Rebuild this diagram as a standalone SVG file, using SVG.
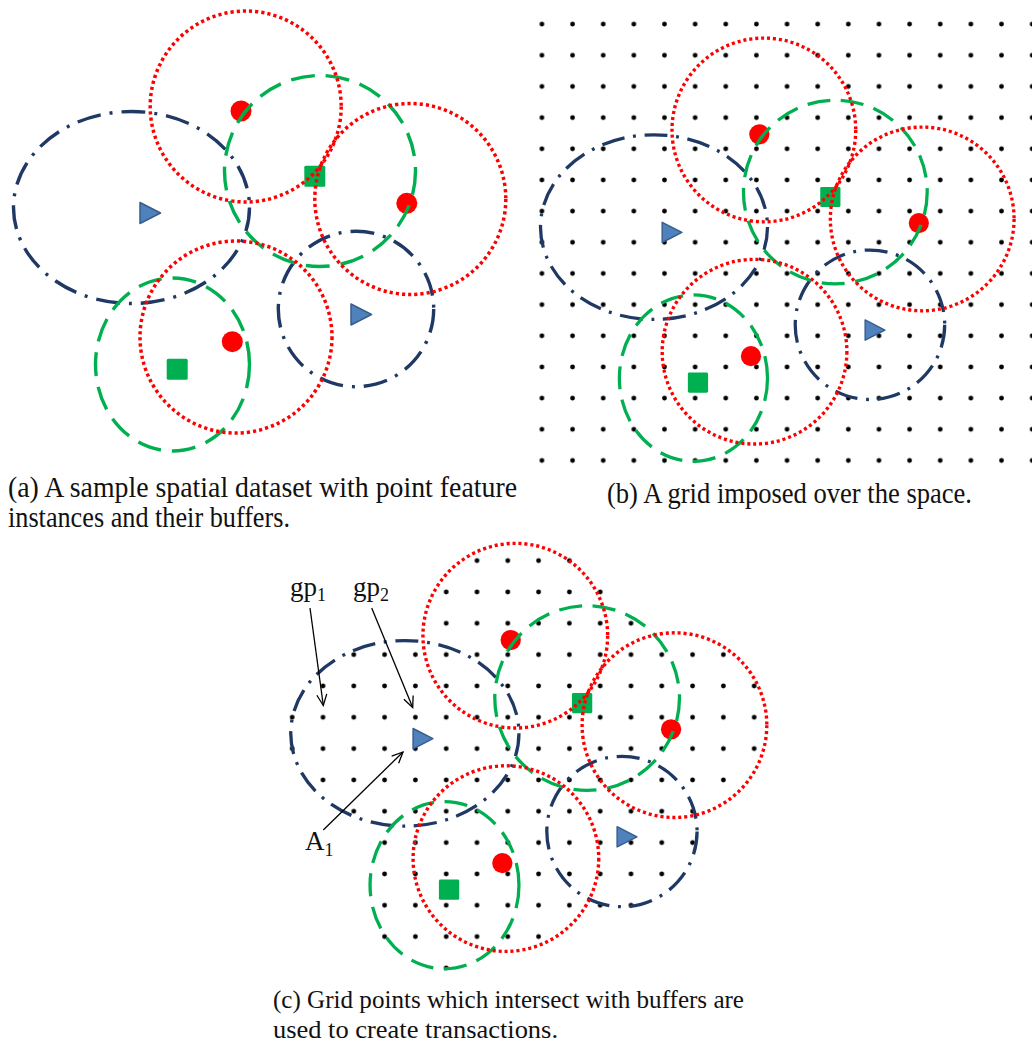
<svg xmlns="http://www.w3.org/2000/svg" xmlns:xlink="http://www.w3.org/1999/xlink" width="1032" height="1048" viewBox="0 0 1032 1048">
  <style>
    .red   { fill: none; stroke: #FF0000; stroke-width: 3.5; stroke-dasharray: 3.2 3; }
    .green { fill: none; stroke: #00B050; stroke-width: 3.4; stroke-dasharray: 24 11; }
    .blue  { fill: none; stroke: #1F3864; stroke-width: 3.4; stroke-dasharray: 24 9 3 9; }
    .inst-r { fill: #FF0000; }
    .inst-g { fill: #00B050; }
    .inst-b { fill: #4F81BD; stroke: #385D8A; stroke-width: 1.5; stroke-linejoin: round; }
    .caption { font-family: "Liberation Serif", "Times New Roman", serif; fill: #111; }
    .label { font-family: "Liberation Serif", "Times New Roman", serif; font-size: 27px; fill: #111; }
    .sub { font-size: 18px; }
    .arrow { fill: none; stroke: #000; stroke-width: 1.3; marker-end: url(#openHead); }
  </style>
  <defs>
    <marker id="openHead" markerUnits="userSpaceOnUse" markerWidth="14" markerHeight="14" viewBox="-12 -7 14 14" refX="0" refY="0" orient="auto">
      <path d="M-11,-5 L0,0 L-11,5" fill="none" stroke="#000" stroke-width="1.3"/>
    </marker>
    <!-- regular grid of sample points -->
    <pattern id="gridDots" patternUnits="userSpaceOnUse" x="-0.925" y="-19.7" width="31.85" height="32.4">
      <circle cx="15.925" cy="16.2" r="2.5" fill="#000"/>
    </pattern>

    <!-- point feature instances -->
    <g id="instances">
      <g id="r1"><circle class="inst-r" cx="241" cy="111" r="10.5"/></g>
      <g id="r2"><circle class="inst-r" cx="406.8" cy="203.3" r="10.5"/></g>
      <g id="r3"><circle class="inst-r" cx="232.3" cy="341.7" r="10.5"/></g>
      <g id="g1"><rect class="inst-g" x="304.3" y="165.7" width="21" height="21" rx="1.5"/></g>
      <g id="g2"><rect class="inst-g" x="166.7" y="358.7" width="21" height="21" rx="1.5"/></g>
      <g id="b1"><path class="inst-b" d="M140,202.5 L160.5,213 L140,223.5 Z"/></g>
      <g id="b2"><path class="inst-b" d="M351,304 L371.5,314.5 L351,325 Z"/></g>
    </g>

    <!-- buffers around each instance -->
    <g id="buffers">
      <ellipse class="blue" cx="131.5" cy="207.5" rx="118" ry="96"/>
      <circle class="blue" cx="356" cy="309" r="77.7"/>
      <ellipse class="green" cx="172.5" cy="364.5" rx="77" ry="86.5"/>
      <circle class="green" cx="320" cy="171" r="95.5"/>
      <circle class="red" cx="245.7" cy="106.5" r="95.5"/>
      <circle class="red" cx="410.3" cy="199" r="95.5"/>
      <circle class="red" cx="236" cy="337" r="96"/>
    </g>
  </defs>

  <!-- (a) instances and buffers -->
  <g id="panel-a">
    <use xlink:href="#instances"/>
    <use xlink:href="#buffers"/>
  </g>

  <!-- (b) the full grid laid over the space -->
  <g id="panel-b" transform="matrix(0.962 0 0 0.962 527.5 27.5)">
    <rect x="-0.925" y="-19.7" width="541.45" height="486" fill="url(#gridDots)"/>
    <use xlink:href="#instances"/>
    <use xlink:href="#buffers"/>
  </g>

  <!-- (c) only grid points falling inside a buffer -->
  <g id="panel-c" transform="matrix(0.967 0 0 0.967 277.7 532.7)">
    <path fill="url(#gridDots)" d="
      M190.175 12.7h127.4v32.4h-127.4z
      M158.325 45.1h191.1v32.4h-191.1z
      M158.325 77.5h222.95v32.4h-222.95z
      M62.775 109.9h414.05v32.4h-414.05z
      M30.925 142.3h477.75v32.4h-477.75z
      M-0.925 174.7h509.6v32.4h-509.6z
      M-0.925 207.1h509.6v32.4h-509.6z
      M30.925 239.5h445.9v32.4h-445.9z
      M62.775 271.9h382.2v32.4h-382.2z
      M94.625 304.3h350.35v32.4h-350.35z
      M94.625 336.7h318.5v32.4h-318.5z
      M94.625 369.1h286.65v32.4h-286.65z
      M94.625 401.5h191.1v32.4h-191.1z
      M158.325 433.9h31.85v32.4h-31.85z"/>
    <use xlink:href="#instances"/>
    <use xlink:href="#buffers"/>
  </g>

  <!-- leader arrows for the annotations in (c) -->
  <g id="connectors">
    <path class="arrow" d="M310,608 L323.3,705.5"/>
    <path class="arrow" d="M371.7,608 L412.7,707.5"/>
    <path class="arrow" d="M323.3,830 L403,752"/>
  </g>

  <g id="annotations">
    <g id="label-gp1"><text class="label" x="290" y="596">gp<tspan class="sub" dy="5">1</tspan></text></g>
    <g id="label-gp2"><text class="label" x="353" y="596">gp<tspan class="sub" dy="5">2</tspan></text></g>
    <g id="label-a1"><text class="label" x="305" y="850">A<tspan class="sub" dy="6">1</tspan></text></g>
  </g>

  <g id="captions">
    <text class="caption" font-size="30" x="8" y="497" textLength="509" lengthAdjust="spacingAndGlyphs">(a) A sample spatial dataset with point feature</text>
    <text class="caption" font-size="30" x="8" y="527" textLength="282" lengthAdjust="spacingAndGlyphs">instances and their buffers.</text>
    <text class="caption" font-size="30" x="607" y="503" textLength="365" lengthAdjust="spacingAndGlyphs">(b) A grid imposed over the space.</text>
    <text class="caption" font-size="25" x="273" y="1008" textLength="471" lengthAdjust="spacingAndGlyphs">(c) Grid points which intersect with buffers are</text>
    <text class="caption" font-size="25" x="273" y="1038" textLength="285" lengthAdjust="spacingAndGlyphs">used to create transactions.</text>
  </g>
</svg>
